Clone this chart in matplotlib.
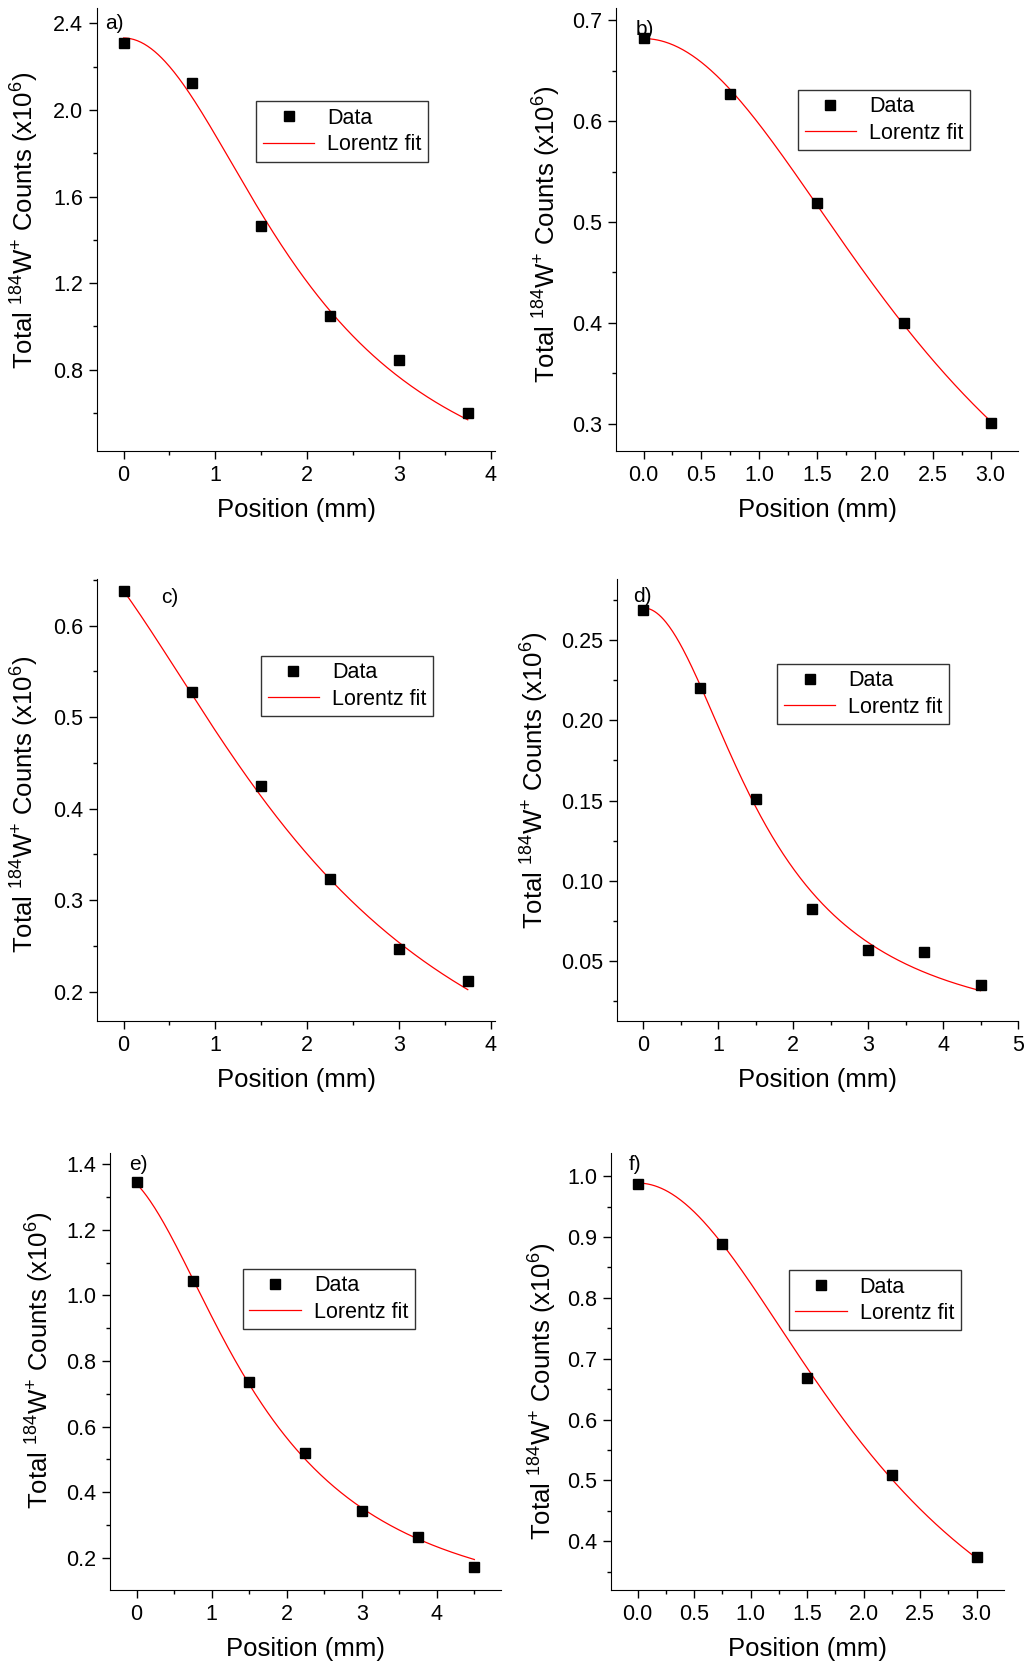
import numpy as np
import matplotlib
matplotlib.use('Agg')
import matplotlib.pyplot as plt
from matplotlib.ticker import MultipleLocator, FormatStrFormatter

plt.rcParams['font.family'] = ['Liberation Sans', 'DejaVu Sans']
plt.rcParams['mathtext.fontset'] = 'custom'
plt.rcParams['mathtext.rm'] = 'Liberation Sans'
plt.rcParams['mathtext.default'] = 'regular'

# positions (mm) and counts (x10^6) per panel
pos_a = [0, 0.75, 1.5, 2.25, 3.0, 3.75]
cnt_a = [2.312, 2.126, 1.464, 1.048, 0.843, 0.598]
pos_b = [0, 0.75, 1.5, 2.25, 3.0]
cnt_b = [0.683, 0.6275, 0.519, 0.400, 0.301]
pos_c = [0, 0.75, 1.5, 2.25, 3.0, 3.75]
cnt_c = [0.638, 0.528, 0.425, 0.323, 0.247, 0.212]
pos_d = [0, 0.75, 1.5, 2.25, 3.0, 3.75, 4.5]
cnt_d = [0.2689, 0.2204, 0.1509, 0.0822, 0.0571, 0.0558, 0.0349]
pos_e = [0, 0.75, 1.5, 2.25, 3.0, 3.75, 4.5]
cnt_e = [1.346, 1.044, 0.736, 0.521, 0.344, 0.263, 0.171]
pos_f = [0, 0.75, 1.5, 2.25, 3.0]
cnt_f = [0.9875, 0.8892, 0.6688, 0.5085, 0.3739]

# Lorentz fit parameters: y0, xc, w, peak height
fit_a = [0.058, 0.0, 4.035, 2.275]
fit_b = [0.013, 0.0, 5.24, 0.669]
fit_c = [0.0036, -1.13, 6.0, 0.7245]
fit_d = [0.0005, 0.0, 3.25, 0.2695]
fit_e = [0.0029, -0.35, 3.9, 1.3802]
fit_f = [0.0506, 0.0, 4.333, 0.938]

labels = ['a)', 'b)', 'c)', 'd)', 'e)', 'f)']


def lorentz(x, p):
    y0, xc, w, h = p
    return y0 + h / (1 + 4 * (x - xc) ** 2 / w ** 2)


# axes rectangles in figure fractions
rects = [
    [0.0947, 0.730, 0.389, 0.265],
    [0.6016, 0.730, 0.3926, 0.265],
    [0.0947, 0.3886, 0.389, 0.2647],
    [0.6025, 0.3886, 0.3916, 0.2647],
    [0.1074, 0.0479, 0.382, 0.2617],
    [0.5967, 0.0479, 0.3838, 0.2617],
]
xlims = [(-0.29, 4.05), (-0.238, 3.238), (-0.29, 4.05), (-0.353, 5.0), (-0.354, 4.857), (-0.236, 3.242)]
ylims = [(0.425, 2.47), (0.273, 0.712), (0.168, 0.651), (0.0127, 0.288), (0.102, 1.434), (0.32, 1.038)]
xmaj = [1, 0.5, 1, 1, 1, 0.5]
ymaj = [0.4, 0.1, 0.1, 0.05, 0.2, 0.1]
xfmt = ['%d', '%.1f', '%d', '%d', '%d', '%.1f']
yfmt = ['%.1f', '%.1f', '%.1f', '%.2f', '%.1f', '%.1f']
lab_xy = [(0.02, 0.965), (0.05, 0.953), (0.16, 0.957), (0.04, 0.96), (0.05, 0.973), (0.045, 0.973)]
leg_xy = [(0.40, 0.79), (0.453, 0.816), (0.412, 0.826), (0.40, 0.808), (0.34, 0.735), (0.452, 0.732)]
ylab_xy = [(-0.141, 0.52), (-0.132, 0.49), (-0.141, 0.49), (-0.164, 0.545), (-0.139, 0.525), (-0.133, 0.455)]

panels = [(pos_a, cnt_a, fit_a), (pos_b, cnt_b, fit_b), (pos_c, cnt_c, fit_c),
          (pos_d, cnt_d, fit_d), (pos_e, cnt_e, fit_e), (pos_f, cnt_f, fit_f)]

fig = plt.figure(figsize=(10.24, 16.70), dpi=100)

for i, (px, py, fp) in enumerate(panels):
    ax = fig.add_axes(rects[i])
    xx = np.linspace(0, px[-1], 300)
    ax.plot(px, py, 's', color='black', ms=7.5, label='Data', zorder=3)
    ax.plot(xx, lorentz(xx, fp), '-', color='red', lw=0.9, label='Lorentz fit')
    ax.set_xlim(*xlims[i])
    ax.set_ylim(*ylims[i])
    ax.spines['top'].set_visible(False)
    ax.spines['right'].set_visible(False)
    ax.xaxis.set_major_locator(MultipleLocator(xmaj[i]))
    ax.xaxis.set_minor_locator(MultipleLocator(xmaj[i] / 2))
    ax.yaxis.set_major_locator(MultipleLocator(ymaj[i]))
    ax.yaxis.set_minor_locator(MultipleLocator(ymaj[i] / 2))
    ax.xaxis.set_major_formatter(FormatStrFormatter(xfmt[i]))
    ax.yaxis.set_major_formatter(FormatStrFormatter(yfmt[i]))
    ax.tick_params(which='major', direction='out', length=6, width=1, labelsize=15.5, pad=4)
    ax.tick_params(which='minor', direction='out', length=3, width=1)
    ax.set_xlabel('Position (mm)', fontsize=18.5, labelpad=9)
    ax.set_ylabel(r'Total $^{184}$W$^{+}$ Counts (x10$^{6}$)', fontsize=18.5)
    ax.yaxis.set_label_coords(*ylab_xy[i])
    ax.text(lab_xy[i][0], lab_xy[i][1], labels[i], transform=ax.transAxes,
            fontsize=15, va='center', ha='left')
    leg = ax.legend(loc='upper left', bbox_to_anchor=leg_xy[i], borderaxespad=0,
                    fontsize=15.5, frameon=True, fancybox=False, edgecolor='black',
                    handlelength=2.4, handletextpad=0.6, borderpad=0.3,
                    labelspacing=0.25, numpoints=1)
    leg.get_frame().set_linewidth(1.0)

fig.savefig('out.png', dpi=100)
